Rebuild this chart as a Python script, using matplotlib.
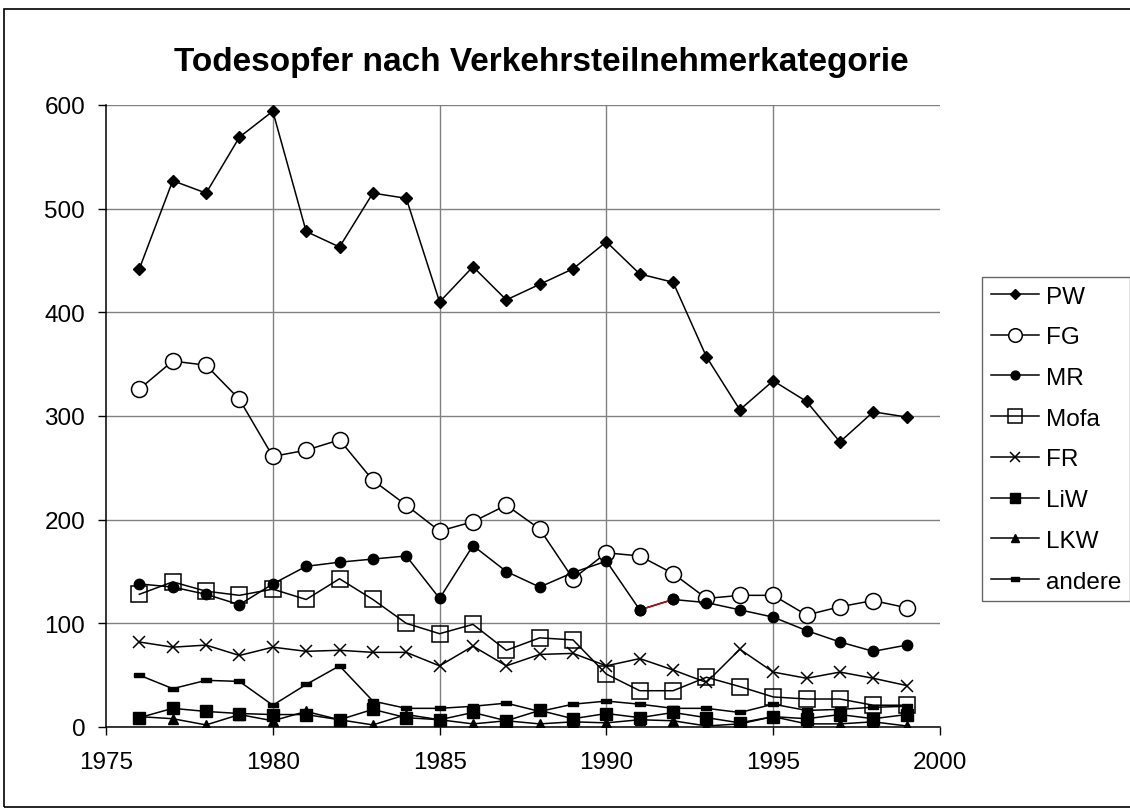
import matplotlib
matplotlib.use('Agg')
import matplotlib.pyplot as plt
from matplotlib.patches import Rectangle

plt.rcParams['font.family'] = ['Liberation Sans', 'DejaVu Sans']

years = list(range(1976, 2000))
pw = [442, 527, 515, 569, 594, 478, 463, 515, 510, 410, 444, 412, 427, 442, 468, 437, 429, 357, 306, 334, 314, 275, 304, 299]
fg = [326, 353, 349, 316, 261, 267, 277, 238, 214, 189, 198, 214, 191, 143, 168, 165, 148, 124, 127, 127, 108, 116, 122, 115]
mr = [138, 135, 128, 118, 138, 155, 159, 162, 165, 124, 175, 150, 135, 149, 160, 113, 123, 120, 113, 106, 93, 82, 73, 79]
mofa = [128, 140, 131, 127, 133, 123, 143, 123, 100, 90, 99, 74, 86, 84, 51, 35, 35, 48, 39, 29, 27, 27, 21, 21]
fr = [82, 77, 79, 69, 77, 73, 74, 72, 72, 59, 78, 59, 70, 71, 59, 66, 55, 43, 75, 53, 47, 53, 47, 40]
liw = [9, 18, 15, 13, 12, 12, 7, 17, 9, 7, 14, 6, 16, 8, 13, 9, 14, 9, 4, 10, 8, 12, 8, 12]
lkw = [10, 8, 2, 12, 6, 15, 7, 2, 12, 7, 3, 6, 3, 5, 4, 7, 6, 1, 3, 10, 3, 3, 5, 1]
andere = [50, 37, 45, 44, 21, 41, 59, 25, 18, 18, 20, 23, 15, 22, 25, 22, 18, 18, 14, 22, 16, 17, 19, 20]

x_ticks = [1975, 1980, 1985, 1990, 1995, 2000]
y_ticks = [0, 100, 200, 300, 400, 500, 600]
title = 'Todesopfer nach Verkehrsteilnehmerkategorie'

# flat rectangle marker for "andere"
dash_marker = [(-1, -0.5), (1, -0.5), (1, 0.5), (-1, 0.5), (-1, -0.5)]

W, H = 1130, 812
fig = plt.figure(figsize=(W / 100, H / 100), dpi=100)
ax = fig.add_axes([106 / W, 1 - 728 / H, (940 - 106) / W, (728 - 106) / H])

# outer chart border
fig.patches.append(Rectangle((4 / W, 1 - 808 / H), (1140 - 4) / W, (808 - 10) / H,
                             transform=fig.transFigure, fill=False, edgecolor='black', lw=1.2))

kw = dict(color='black', lw=1.1)
ax.plot(years, pw, marker='D', ms=6.3, label='PW', **kw)
ax.plot(years, fg, marker='o', ms=11.5, mfc='white', mec='black', mew=1.1, label='FG', **kw)
ax.plot(years, mr, marker='o', ms=7.5, label='MR', **kw)
# small red stretch in the MR line
ax.plot(years[15:17], mr[15:17], color='#b01010', lw=1.1, zorder=2.5)
ax.plot(years[15:17], mr[15:17], 'o', color='black', ms=7.5, zorder=2.6)
ax.plot(years, mofa, marker='s', ms=12, mfc='none', mec='black', mew=1.1, label='Mofa', **kw)
ax.plot(years, fr, marker='x', ms=8.5, mew=1.1, label='FR', **kw)
ax.plot(years, liw, marker='s', ms=8, label='LiW', **kw)
ax.plot(years, lkw, marker='^', ms=7.5, label='LKW', **kw)
ax.plot(years, andere, marker=dash_marker, ms=7, label='andere', **kw)

ax.set_xlim(1975, 2000)
ax.set_ylim(0, 600)
ax.set_xticks(x_ticks)
ax.set_yticks(y_ticks)
ax.tick_params(axis='both', direction='out', length=6, width=1, labelsize=17.5, colors='black')
ax.tick_params(axis='x', pad=11)
ax.tick_params(axis='y', pad=9)

ax.grid(True, color='#808080', lw=1)
ax.set_axisbelow(True)
ax.get_xgridlines()[-1].set_visible(False)
ax.get_xgridlines()[0].set_visible(False)
for side in ['top', 'right']:
    ax.spines[side].set_visible(False)
for side in ['left', 'bottom']:
    ax.spines[side].set_linewidth(1.1)

fig.text(541 / W, 1 - 62 / H, title, ha='center', va='center', fontsize=24, fontweight='bold')

leg = fig.legend(loc='upper left', bbox_to_anchor=(982 / W, 1 - 278 / H), fontsize=17.5,
                 frameon=True, fancybox=False, edgecolor='#404040', borderaxespad=0,
                 labelspacing=0.77, handlelength=2.0, handletextpad=0.3, borderpad=0.35,
                 markerscale=0.85)
leg.get_frame().set_linewidth(1.0)

fig.savefig('out.png', dpi=100)
